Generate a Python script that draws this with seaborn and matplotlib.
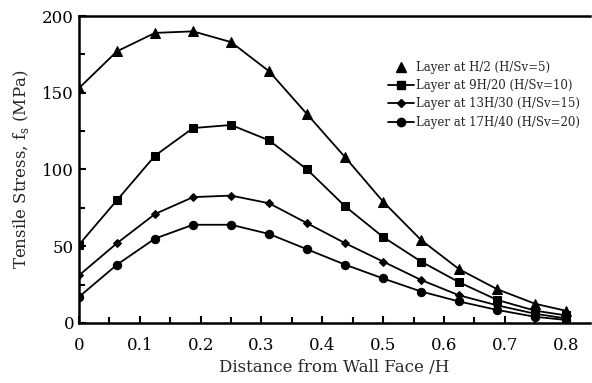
import numpy as np
import pandas as pd
import matplotlib
matplotlib.use("Agg")
import matplotlib.pyplot as plt
from matplotlib.lines import Line2D
import seaborn as sns

x_vals = [0, 0.0625, 0.125, 0.1875, 0.25, 0.3125, 0.375, 0.4375, 0.5, 0.5625, 0.625, 0.6875, 0.75, 0.8]
layer_h2 = [153, 177, 189, 190, 183, 164, 136, 108, 79, 54, 35, 22, 12.5, 8]
layer_9h20 = [51, 80, 109, 127, 129, 119, 100, 76, 56, 40, 26.5, 15, 8, 5]
layer_13h30 = [31, 52, 71, 82, 83, 78, 65, 52, 40, 28, 18, 11.5, 6, 3]
layer_17h40 = [17, 38, 55, 64, 64, 58, 48, 38, 29, 20.5, 14, 8.5, 4, 2]
labels = ["Layer at H/2 (H/Sv=5)", "Layer at 9H/20 (H/Sv=10)",
          "Layer at 13H/30 (H/Sv=15)", "Layer at 17H/40 (H/Sv=20)"]
series = [layer_h2, layer_9h20, layer_13h30, layer_17h40]
markers = ["^", "s", "D", "o"]
msizes = [6.5, 6, 4.2, 6]

df = pd.concat([pd.DataFrame({"x": x_vals, "y": s, "series": l}) for s, l in zip(series, labels)])

sns.set_theme(style="ticks")
plt.rcParams["font.family"] = ["DejaVu Serif"]

fig = plt.figure(figsize=(5.92, 3.83), dpi=100)
ax = fig.add_axes([0.1334, 0.1567, 0.8632, 0.8015])

for lab, m, ms in zip(labels, markers, msizes):
    sns.lineplot(data=df[df["series"] == lab], x="x", y="y", color="black",
                 marker=m, markersize=ms, markeredgecolor="black", linewidth=1.3,
                 ax=ax, legend=False)

ax.set_xlim(0, 0.84)
ax.set_ylim(0, 200)
ax.set_xticks(np.arange(0, 0.81, 0.1))
ax.set_xticklabels(["0", "0.1", "0.2", "0.3", "0.4", "0.5", "0.6", "0.7", "0.8"])
ax.set_xticks(np.arange(0.05, 0.81, 0.1), minor=True)
ax.set_yticks([0, 50, 100, 150, 200])
ax.set_yticks([25, 75, 125, 175], minor=True)
ax.tick_params(axis="both", which="both", direction="in", labelsize=12, colors="black")
ax.tick_params(which="major", length=5, width=1.5)
ax.tick_params(which="minor", length=4, width=1.5)
ax.tick_params(axis="x", pad=10)
for sp in ["left", "bottom", "top"]:
    ax.spines[sp].set_linewidth(1.8)
    ax.spines[sp].set_color("black")
ax.spines["right"].set_visible(False)

ax.set_xlabel("Distance from Wall Face /H", fontsize=12, labelpad=4)
ax.set_ylabel("Tensile Stress, f$_\\mathregular{s}$ (MPa)", fontsize=12, labelpad=8)

handles = [Line2D([], [], color="black", linestyle="none", marker="^", markersize=6.5)]
for m, ms in zip(markers[1:], msizes[1:]):
    handles.append(Line2D([], [], color="black", marker=m, markersize=ms, linewidth=1.3))
fig.legend(handles, labels, loc="upper left", bbox_to_anchor=(0.637, 0.869),
           frameon=False, fontsize=8.5, handlelength=2.2, handletextpad=0.2,
           labelspacing=0.45)

fig.savefig("out.png", dpi=100)
